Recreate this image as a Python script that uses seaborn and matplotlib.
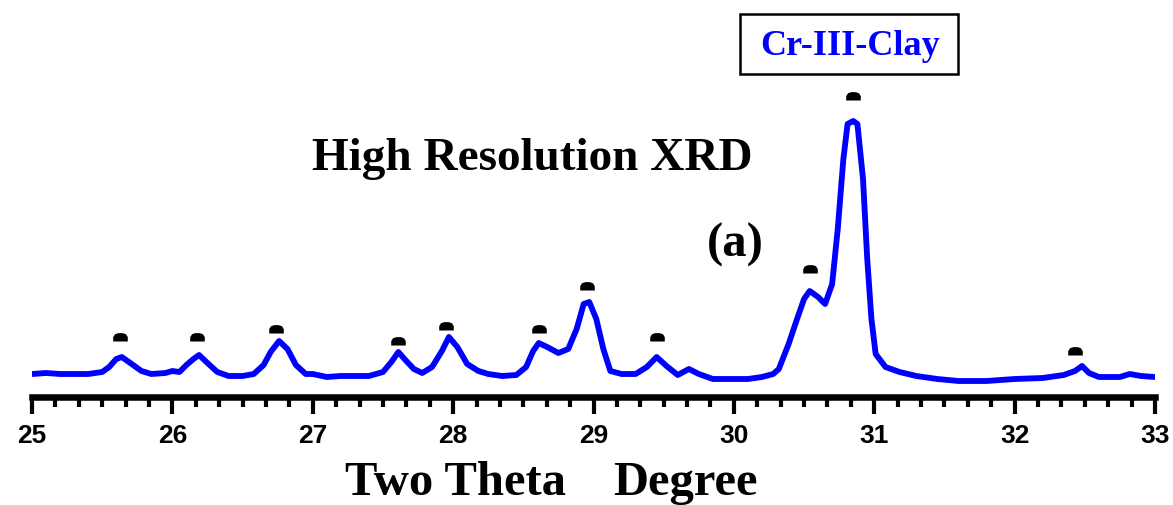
import matplotlib
matplotlib.use("Agg")
import matplotlib.pyplot as plt
import seaborn as sns
import pandas as pd
from matplotlib.ticker import AutoMinorLocator
from matplotlib.patches import Rectangle

two_theta = [25.00, 25.10, 25.20, 25.30, 25.40, 25.50, 25.55, 25.60, 25.64, 25.70, 25.78, 25.85,
             25.95, 26.00, 26.05, 26.10, 26.15, 26.19, 26.25, 26.32, 26.40, 26.50, 26.58, 26.65,
             26.70, 26.76, 26.82, 26.88, 26.95, 27.00, 27.10, 27.20, 27.30, 27.40, 27.50, 27.56,
             27.61, 27.66, 27.72, 27.78, 27.85, 27.92, 27.97, 28.03, 28.10, 28.18, 28.25, 28.35,
             28.45, 28.52, 28.57, 28.61, 28.67, 28.75, 28.82, 28.88, 28.93, 28.97, 29.02, 29.07,
             29.12, 29.20, 29.30, 29.38, 29.45, 29.52, 29.60, 29.68, 29.75, 29.85, 29.95, 30.10,
             30.20, 30.28, 30.32, 30.39, 30.45, 30.50, 30.54, 30.60, 30.65, 30.70, 30.74, 30.78,
             30.81, 30.85, 30.88, 30.92, 30.95, 30.98, 31.01, 31.08, 31.18, 31.30, 31.45, 31.60,
             31.80, 32.00, 32.20, 32.35, 32.43, 32.48, 32.53, 32.60, 32.75, 32.82, 32.90, 33.00]
intensity = [23, 24, 23, 23, 23, 25, 30, 38, 40, 34, 26, 23,
             24, 26, 25, 32, 38, 42, 34, 25, 21, 21, 23, 32,
             45, 56, 48, 32, 23, 23, 20, 21, 21, 21, 25, 35,
             45, 37, 28, 24, 30, 46, 60, 50, 33, 26, 23, 21,
             22, 30, 46, 54, 50, 44, 48, 68, 93, 95, 78, 48,
             26, 23, 23, 30, 40, 31, 22, 28, 23, 18, 18, 18,
             20, 23, 28, 53, 78, 98, 106, 100, 93, 113, 168, 238,
             273, 276, 273, 218, 138, 78, 43, 30, 25, 21, 18, 16,
             16, 18, 19, 22, 26, 31, 24, 20, 20, 23, 21, 20]

peak_pos = [25.627, 26.175, 26.738, 27.607, 27.949, 28.611, 28.953, 29.452, 30.541, 30.848, 32.43]
peak_mark = [60, 60, 68, 56, 71, 68, 111, 60, 128, 301, 46]

tick_vals = [25, 26, 27, 28, 29, 30, 31, 32, 33]

df = pd.DataFrame({"x": two_theta, "y": intensity})
dm = pd.DataFrame({"x": peak_pos, "y": peak_mark})

sns.set_style("white")
plt.rcParams['font.family'] = ['Liberation Serif', 'DejaVu Serif']
plt.rcParams['text.color'] = 'black'

fig = plt.figure(figsize=(11.73, 5.06), dpi=100)
ax = fig.add_axes([32/1173, 108/506, (1155-32)/1173, 398/506])

dome = [(-1, -0.55), (1, -0.55), (1, 0.05), (0.75, 0.45), (0.3, 0.6), (-0.3, 0.6),
        (-0.75, 0.45), (-1, 0.05), (-1, -0.55)]

sns.lineplot(data=df, x="x", y="y", ax=ax, color="#0000ff", linewidth=4.2, sort=False)
sns.scatterplot(data=dm, x="x", y="y", ax=ax, color="black", marker=dome, s=110,
                edgecolor="black", linewidth=0, zorder=5)

ax.set_xlim(25, 33)
ax.set_ylim(0, 398)
ax.set_xticks(tick_vals)
ax.xaxis.set_minor_locator(AutoMinorLocator(6))
ax.set_yticks([])
for s in ["left", "top", "right"]:
    ax.spines[s].set_visible(False)
ax.spines["bottom"].set_linewidth(4.7)
ax.spines["bottom"].set_color("black")
ax.tick_params(axis="x", which="both", bottom=True, top=False)
ax.tick_params(axis="x", which="major", direction="out", length=12, width=3, color="black",
               pad=7, labelcolor="black")
ax.tick_params(axis="x", which="minor", direction="out", length=7, width=3, color="black")
for lab in ax.get_xticklabels():
    lab.set_fontfamily("Liberation Sans")
    lab.set_fontweight("bold")
    lab.set_fontsize(19)
ax.set_xlabel("")
ax.set_ylabel("")

fig.text(345/1173, 1 - 495/506, "Two Theta", fontsize=35, fontweight="bold",
         ha="left", va="baseline", color="black")
fig.text(613/1173, 1 - 495/506, "Degree", fontsize=35, fontweight="bold",
         ha="left", va="baseline", color="black")
fig.text(532/1173, 1 - 170/506, "High Resolution XRD", fontsize=34, fontweight="bold",
         ha="center", va="baseline", color="black")
fig.text(735/1173, 1 - 245/506, "(a)", fontsize=35, fontweight="bold",
         ha="center", va="center", color="black")
fig.patches.append(Rectangle((740/1173, 1 - 75/506), 218/1173, 60/506,
                             transform=fig.transFigure, facecolor="white",
                             edgecolor="black", linewidth=1.8, zorder=3))
fig.text(850/1173, 1 - 55/506, "Cr-III-Clay", fontsize=26, fontweight="bold",
         color="#0000ff", ha="center", va="baseline", zorder=4)

fig.savefig("out.png", dpi=100)
